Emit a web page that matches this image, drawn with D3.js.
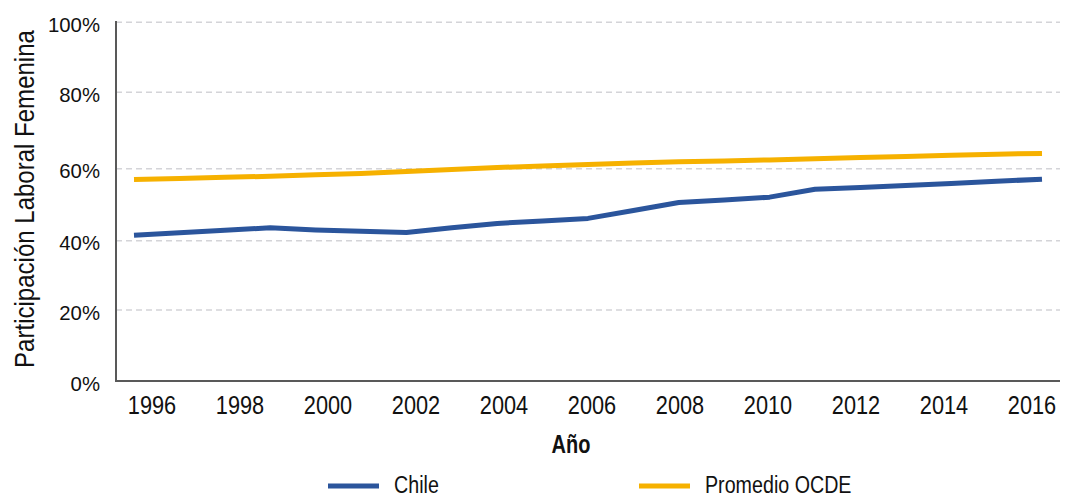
<!DOCTYPE html>
<html><head><meta charset="utf-8">
<script src="https://cdn.jsdelivr.net/npm/d3@7"></script>
<style>
html,body{margin:0;padding:0;background:#fff;}
text{font-family:"Liberation Sans",Arial,sans-serif;fill:#111;}
</style></head>
<body><svg id="c" width="1071" height="498"></svg>
<script>
const years = [1996,1997,1998,1999,2000,2001,2002,2003,2004,2005,2006,2007,2008,2009,2010,2011,2012,2013,2014,2015,2016];
const chile = [41.5,42.2,42.9,43.6,43.0,42.6,42.3,43.6,44.8,45.5,46.2,48.4,50.6,51.3,52.1,54.3,54.8,55.3,55.9,56.5,57.1];
const ocde  = [57.0,57.3,57.6,57.9,58.3,58.7,59.2,59.8,60.3,60.7,61.1,61.5,61.8,62.0,62.3,62.6,62.9,63.2,63.5,63.8,64.0];
const xTicks = [1996,1998,2000,2002,2004,2006,2008,2010,2012,2014,2016];
const yTicks = [0,20,40,60,80,100];
const seriesNames = ["Chile","Promedio OCDE"];
const seriesColors = ["#2b559c","#f6b100"];

const svg = d3.select("#c");
const y = d3.scaleLinear().domain([0,20,40,60,80,100]).range([381,310,240.7,168.7,92.3,22.3]);
const xLine = d3.scaleLinear().domain([1996,2016]).range([134,1042]);
const xLab = d3.scaleLinear().domain([1996,2016]).range([152,1032]);
const left = 116, right = 1060;

// gridlines
svg.append("g").selectAll("line").data(yTicks.filter(d=>d>0)).join("line")
  .attr("x1",left).attr("x2",right).attr("y1",d=>y(d)).attr("y2",d=>y(d))
  .attr("stroke","#d4d4d8").attr("stroke-width",1.5).attr("stroke-dasharray","6,4");

// y tick labels
svg.append("g").selectAll("text").data(yTicks).join("text")
  .attr("transform",d=>`translate(100,${y(d)+9.5}) scale(0.97,1)`).attr("text-anchor","end")
  .style("font-size","21px")
  .text(d=>d+"%");

// x tick labels
svg.append("g").selectAll("text").data(xTicks).join("text")
  .attr("transform",d=>`translate(${xLab(d)},414) scale(0.87,1)`).attr("text-anchor","middle")
  .style("font-size","25px")
  .text(d=>d);

// axes lines
svg.append("line").attr("x1",left).attr("x2",left).attr("y1",21).attr("y2",382)
  .attr("stroke","#595959").attr("stroke-width",2);
svg.append("line").attr("x1",left-1).attr("x2",right).attr("y1",381).attr("y2",381)
  .attr("stroke","#595959").attr("stroke-width",2);

// lines
const line = d3.line().x((d,i)=>xLine(years[i])).y(d=>y(d));
[chile,ocde].forEach((s,k)=>{
  svg.append("path").datum(s).attr("d",line).attr("fill","none")
    .attr("stroke",seriesColors[k]).attr("stroke-width",5).attr("stroke-linejoin","round");
});

// axis titles
svg.append("text").attr("transform","translate(34,199) rotate(-90) scale(0.89,1)").attr("text-anchor","middle")
  .style("font-size","27px").text("Participación Laboral Femenina");
svg.append("text").attr("transform","translate(571,453) scale(0.8,1)").attr("text-anchor","middle")
  .style("font-size","25px").style("font-weight","bold").text("Año");

// legend
const legX = [328,639];
seriesNames.forEach((n,k)=>{
  svg.append("line").attr("x1",legX[k]).attr("x2",legX[k]+51).attr("y1",486).attr("y2",486)
    .attr("stroke",seriesColors[k]).attr("stroke-width",5);
  svg.append("text").attr("transform",`translate(${legX[k]+66},493) scale(0.82,1)`).style("font-size","24px").text(n);
});
</script></body></html>
